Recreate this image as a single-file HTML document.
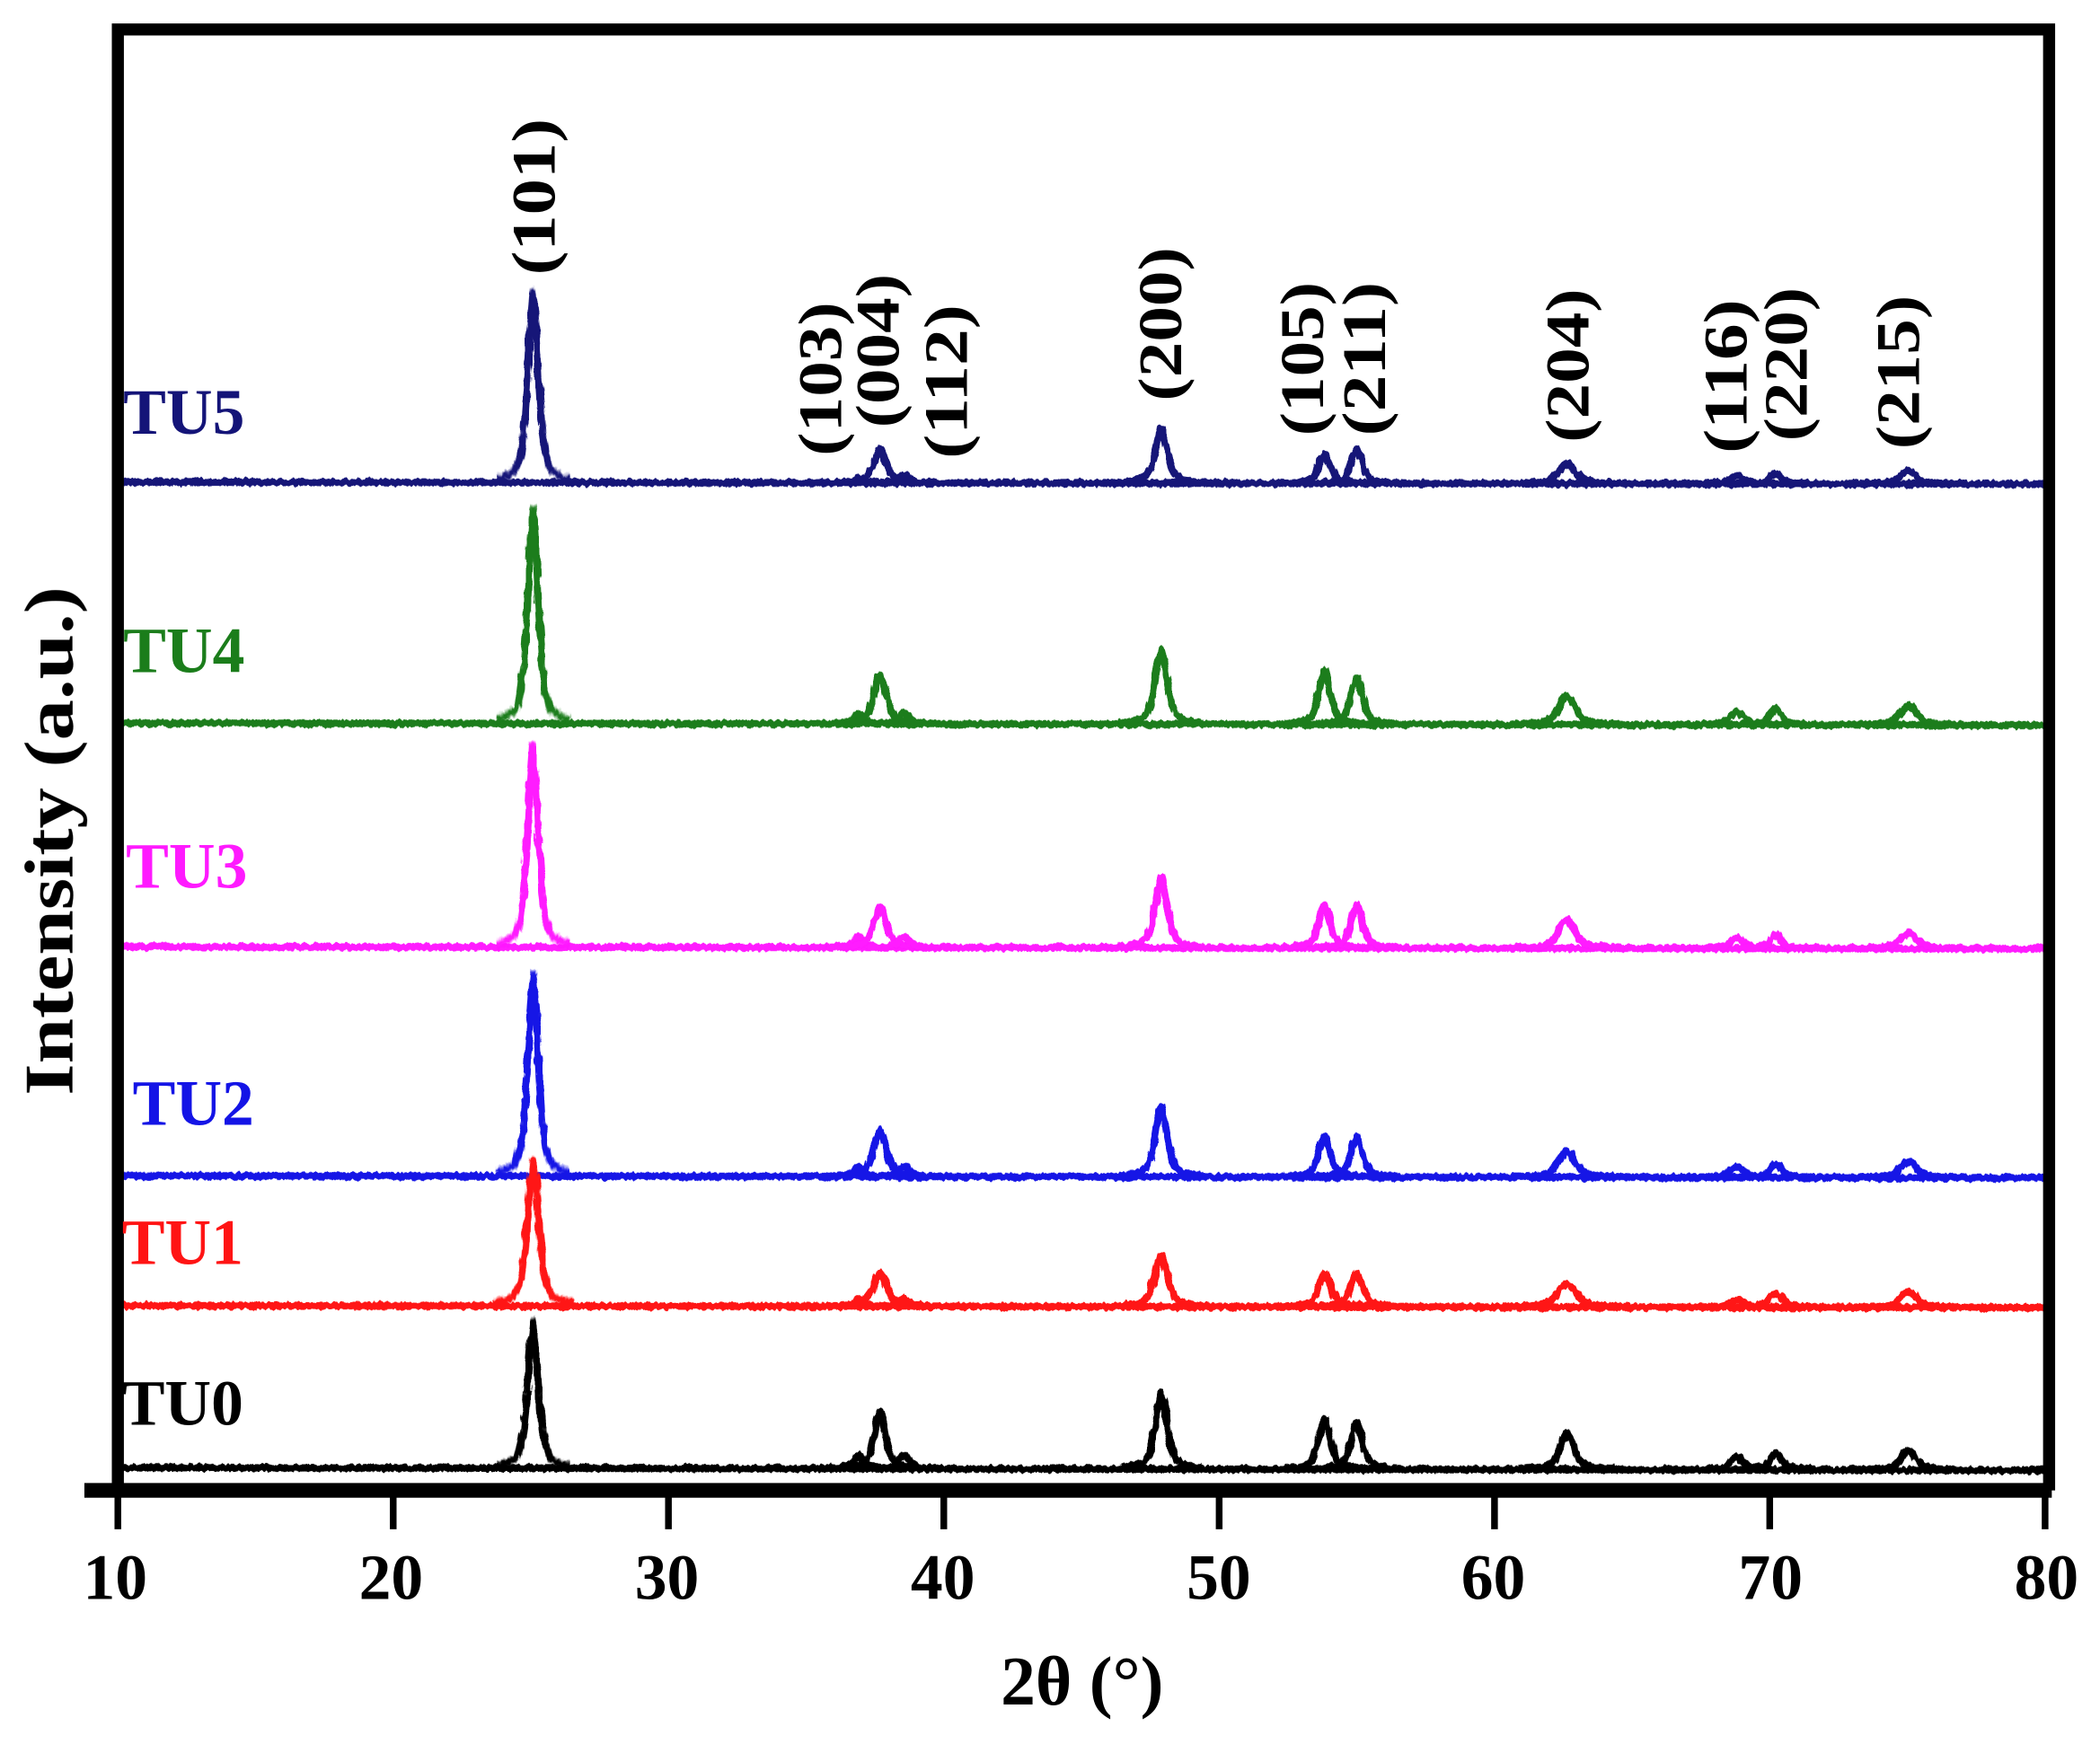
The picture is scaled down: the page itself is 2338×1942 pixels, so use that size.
<!DOCTYPE html>
<html><head><meta charset="utf-8"><style>
html,body{margin:0;padding:0;background:#fff}
svg{display:block}
text{font-family:"Liberation Serif",serif;font-weight:bold}
use{stroke-width:8}
</style></head><body>
<svg width="2338" height="1942" viewBox="0 0 1568 1302.4" xmlns="http://www.w3.org/2000/svg" xmlns:xlink="http://www.w3.org/1999/xlink">
<defs>
<path id="pk" fill="none" vector-effect="non-scaling-stroke" stroke-linejoin="round" d="M-6,-0.016 L-5,-0.023 L-3,-0.06 L-2,-0.145 L-1.5,-0.269 L-1,-0.5 L-0.5,-0.815 L0,-1 L0.5,-0.815 L1,-0.5 L1.5,-0.269 L2,-0.145 L3,-0.06 L5,-0.023 L6,-0.016"/>
<filter id="nz" x="-2%" y="-20%" width="104%" height="140%">
<feTurbulence type="fractalNoise" baseFrequency="0.35 0.08" numOctaves="2" seed="3" result="t"/>
<feDisplacementMap in="SourceGraphic" in2="t" scale="4" xChannelSelector="R" yChannelSelector="G"/>
</filter>
</defs>
<rect width="1568" height="1302.4" fill="#fff"/>
<g filter="url(#nz)" stroke-width="5.5" fill="none">
<g stroke="#141478">
<path d="M88,360 L1527,361.5"/>
<use xlink:href="#pk" transform="translate(398,360) scale(4.5,142)"/>
<use xlink:href="#pk" transform="translate(641,360.5) scale(4,4)"/>
<use xlink:href="#pk" transform="translate(657,360.5) scale(5.5,25)"/>
<use xlink:href="#pk" transform="translate(675,360.5) scale(4.5,6)"/>
<use xlink:href="#pk" transform="translate(867,360.7) scale(5.3,40)"/>
<use xlink:href="#pk" transform="translate(989,360.8) scale(5,22)"/>
<use xlink:href="#pk" transform="translate(1013,360.8) scale(5,25)"/>
<use xlink:href="#pk" transform="translate(1170,361) scale(7,15)"/>
<use xlink:href="#pk" transform="translate(1297,361.2) scale(6,6)"/>
<use xlink:href="#pk" transform="translate(1326,361.2) scale(5,8)"/>
<use xlink:href="#pk" transform="translate(1425,361.3) scale(7,10)"/>
</g>
<g stroke="#1b7d1b">
<path d="M88,540 L1527,541.5"/>
<use xlink:href="#pk" transform="translate(398,540) scale(4.5,160)"/>
<use xlink:href="#pk" transform="translate(641,540.5) scale(4,8)"/>
<use xlink:href="#pk" transform="translate(657,540.5) scale(5.5,37)"/>
<use xlink:href="#pk" transform="translate(675,540.5) scale(4.5,8)"/>
<use xlink:href="#pk" transform="translate(867,540.7) scale(5.3,55)"/>
<use xlink:href="#pk" transform="translate(989,540.8) scale(5,40)"/>
<use xlink:href="#pk" transform="translate(1013,540.8) scale(5,35)"/>
<use xlink:href="#pk" transform="translate(1170,541) scale(7,22)"/>
<use xlink:href="#pk" transform="translate(1297,541.2) scale(6,10)"/>
<use xlink:href="#pk" transform="translate(1326,541.2) scale(5,12)"/>
<use xlink:href="#pk" transform="translate(1425,541.3) scale(7,15)"/>
</g>
<g stroke="#ff1aff">
<path d="M88,707 L1527,708.5"/>
<use xlink:href="#pk" transform="translate(398,707) scale(4.5,150)"/>
<use xlink:href="#pk" transform="translate(641,707.5) scale(4,8)"/>
<use xlink:href="#pk" transform="translate(657,707.5) scale(5.5,30)"/>
<use xlink:href="#pk" transform="translate(675,707.5) scale(4.5,8)"/>
<use xlink:href="#pk" transform="translate(867,707.7) scale(5.3,52)"/>
<use xlink:href="#pk" transform="translate(989,707.8) scale(5,32)"/>
<use xlink:href="#pk" transform="translate(1013,707.8) scale(5,32)"/>
<use xlink:href="#pk" transform="translate(1170,708) scale(7,22)"/>
<use xlink:href="#pk" transform="translate(1297,708.2) scale(6,8)"/>
<use xlink:href="#pk" transform="translate(1326,708.2) scale(5,10)"/>
<use xlink:href="#pk" transform="translate(1425,708.3) scale(7,12)"/>
</g>
<g stroke="#1414e6">
<path d="M88,878 L1527,879.5"/>
<use xlink:href="#pk" transform="translate(398,878) scale(4.5,151)"/>
<use xlink:href="#pk" transform="translate(641,878.5) scale(4,8)"/>
<use xlink:href="#pk" transform="translate(657,878.5) scale(5.5,35)"/>
<use xlink:href="#pk" transform="translate(675,878.5) scale(4.5,8)"/>
<use xlink:href="#pk" transform="translate(867,878.7) scale(5.3,52)"/>
<use xlink:href="#pk" transform="translate(989,878.8) scale(5,30)"/>
<use xlink:href="#pk" transform="translate(1013,878.8) scale(5,30)"/>
<use xlink:href="#pk" transform="translate(1170,879) scale(7,20)"/>
<use xlink:href="#pk" transform="translate(1297,879.2) scale(6,8)"/>
<use xlink:href="#pk" transform="translate(1326,879.2) scale(5,10)"/>
<use xlink:href="#pk" transform="translate(1425,879.3) scale(7,12)"/>
</g>
<g stroke="#ff1414">
<path d="M88,975 L1527,976.5"/>
<use xlink:href="#pk" transform="translate(398,975) scale(5,108)"/>
<use xlink:href="#pk" transform="translate(641,975.5) scale(4,5)"/>
<use xlink:href="#pk" transform="translate(657,975.5) scale(6,25)"/>
<use xlink:href="#pk" transform="translate(675,975.5) scale(4.5,6)"/>
<use xlink:href="#pk" transform="translate(867,975.7) scale(5.8,38)"/>
<use xlink:href="#pk" transform="translate(989,975.8) scale(5.5,25)"/>
<use xlink:href="#pk" transform="translate(1013,975.8) scale(5.5,25)"/>
<use xlink:href="#pk" transform="translate(1170,976) scale(8,18)"/>
<use xlink:href="#pk" transform="translate(1297,976.2) scale(6,6)"/>
<use xlink:href="#pk" transform="translate(1326,976.2) scale(6,10)"/>
<use xlink:href="#pk" transform="translate(1425,976.3) scale(7,12)"/>
</g>
<g stroke="#000">
<path d="M88,1096 L1527,1098"/>
<use xlink:href="#pk" transform="translate(398,1096) scale(4.5,109)"/>
<use xlink:href="#pk" transform="translate(641,1096.5) scale(4,10)"/>
<use xlink:href="#pk" transform="translate(657,1096.5) scale(5,42)"/>
<use xlink:href="#pk" transform="translate(675,1096.5) scale(4.5,10)"/>
<use xlink:href="#pk" transform="translate(867,1096.7) scale(5,57)"/>
<use xlink:href="#pk" transform="translate(989,1096.8) scale(5,37)"/>
<use xlink:href="#pk" transform="translate(1013,1096.8) scale(5,35)"/>
<use xlink:href="#pk" transform="translate(1170,1097) scale(6,27)"/>
<use xlink:href="#pk" transform="translate(1297,1097.2) scale(5,10)"/>
<use xlink:href="#pk" transform="translate(1326,1097.2) scale(5,12)"/>
<use xlink:href="#pk" transform="translate(1425,1097.3) scale(6,15)"/>
</g>
</g>
<path d="M88,1113 V22 H1530 V1113" fill="none" stroke="#000" stroke-width="9"/>
<line x1="63" y1="1113" x2="1532" y2="1113" stroke="#000" stroke-width="11"/>
<g stroke="#000" stroke-width="5">
<line x1="88" y1="1113" x2="88" y2="1142"/><line x1="293.6" y1="1113" x2="293.6" y2="1142"/>
<line x1="499.1" y1="1113" x2="499.1" y2="1142"/><line x1="704.7" y1="1113" x2="704.7" y2="1142"/>
<line x1="910.3" y1="1113" x2="910.3" y2="1142"/><line x1="1115.9" y1="1113" x2="1115.9" y2="1142"/>
<line x1="1321.4" y1="1113" x2="1321.4" y2="1142"/><line x1="1527" y1="1113" x2="1527" y2="1142"/>
</g>
<g font-size="48" text-anchor="middle" fill="#000">
<text x="86" y="1194">10</text><text x="292" y="1194">20</text><text x="498" y="1194">30</text>
<text x="704" y="1194">40</text><text x="910" y="1194">50</text><text x="1115" y="1194">60</text>
<text x="1322" y="1194">70</text><text x="1528" y="1194">80</text>
</g>
<text x="808" y="1273" font-size="52" text-anchor="middle">2θ (°)</text>
<text transform="translate(54,628) rotate(-90)" font-size="52" text-anchor="middle" textLength="380" lengthAdjust="spacingAndGlyphs">Intensity (a.u.)</text>
<g font-size="48">
<text x="92" y="324" fill="#141478">TU5</text>
<text x="92" y="502" fill="#1b7d1b">TU4</text>
<text x="94" y="663" fill="#ff1aff">TU3</text>
<text x="99" y="840" fill="#1414e6">TU2</text>
<text x="91" y="944" fill="#ff1414">TU1</text>
<text x="91" y="1064" fill="#000">TU0</text>
</g>
<g font-size="46" text-anchor="middle" fill="#000">
<text transform="translate(414,147) rotate(-90)" textLength="117" lengthAdjust="spacingAndGlyphs">(101)</text>
<text transform="translate(628,283) rotate(-90)" textLength="115" lengthAdjust="spacingAndGlyphs">(103)</text>
<text transform="translate(671,262) rotate(-90)" textLength="115" lengthAdjust="spacingAndGlyphs">(004)</text>
<text transform="translate(722,285) rotate(-90)" textLength="115" lengthAdjust="spacingAndGlyphs">(112)</text>
<text transform="translate(882,242) rotate(-90)" textLength="115" lengthAdjust="spacingAndGlyphs">(200)</text>
<text transform="translate(988,268) rotate(-90)" textLength="115" lengthAdjust="spacingAndGlyphs">(105)</text>
<text transform="translate(1034,268) rotate(-90)" textLength="115" lengthAdjust="spacingAndGlyphs">(211)</text>
<text transform="translate(1186,273) rotate(-90)" textLength="115" lengthAdjust="spacingAndGlyphs">(204)</text>
<text transform="translate(1304,281) rotate(-90)" textLength="115" lengthAdjust="spacingAndGlyphs">(116)</text>
<text transform="translate(1349,272) rotate(-90)" textLength="115" lengthAdjust="spacingAndGlyphs">(220)</text>
<text transform="translate(1433,278) rotate(-90)" textLength="115" lengthAdjust="spacingAndGlyphs">(215)</text>
</g>
</svg>
</body></html>
